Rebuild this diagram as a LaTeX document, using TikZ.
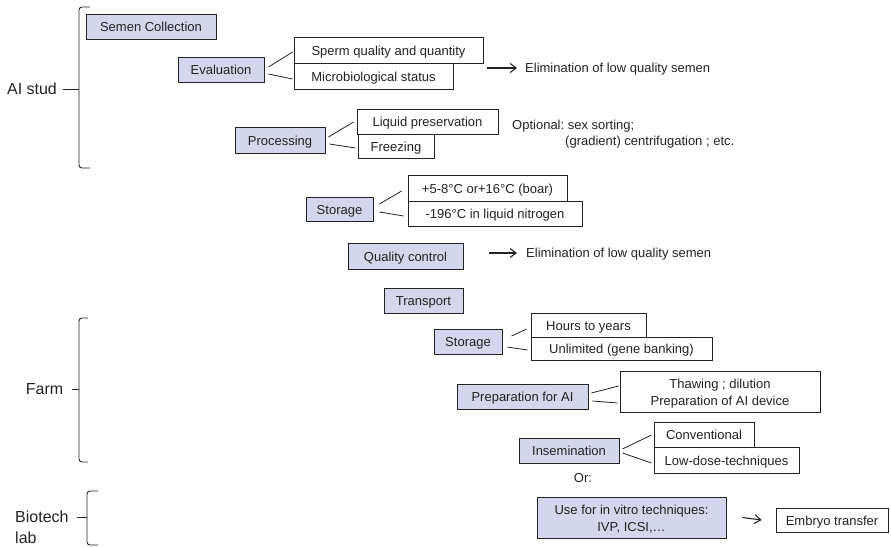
\documentclass[tikz,border=0pt]{standalone}
\usepackage{fontspec}
\setmainfont{Liberation Sans}
\usetikzlibrary{arrows.meta}
\definecolor{stepfill}{RGB}{211,214,236}
\definecolor{ink}{RGB}{35,35,35}
\frenchspacing

\begin{document}
\begin{tikzpicture}[x=1pt,y=-1pt]
\tikzstyle{box}=[draw=ink,line width=0.9pt,inner sep=0pt,font=\fontsize{13}{17}\selectfont,text=ink];
\tikzstyle{stepbox}=[box,fill=stepfill,text height=12pt,text depth=2pt];
\tikzstyle{detail}=[box,fill=white,text height=12pt,text depth=2pt];
\tikzstyle{note}=[inner sep=0pt,font=\fontsize{13}{17}\selectfont,text=ink];
\tikzstyle{place}=[inner sep=0pt,align=left,font=\fontsize{16}{21}\selectfont,text=ink];
\tikzstyle{link}=[draw=ink,line width=0.8pt];
\tikzstyle{alloc}=[draw=ink,line width=1.1pt,-{Straight Barb[length=6pt,width=9pt]}];
\tikzstyle{brace}=[draw=ink,line width=0.9pt,rounded corners=3pt];
\useasboundingbox (0,0) rectangle (891,547);

% places
\node [place] (aistud) at (32,89) {AI stud};
\node [place] (farm) at (44.5,389) {Farm};
\node [place,anchor=west] (biotech) at (15,527) {Biotech\\lab};
\draw [brace] (90,7) -| (79,168) -- (90,168);
\draw [brace] (63,89) -- (79,89);
\draw [brace] (88,318) -| (79,462) -- (88,462);
\draw [brace] (72,389) -- (79,389);
\draw [brace] (98,491) -| (87,545) -- (98,545);
\draw [brace] (77,517) -- (87,517);

% AI stud
\node [stepbox,minimum width=130,minimum height=25] (collect) at (151,26.5) {Semen Collection};
\node [stepbox,minimum width=86,minimum height=25] (eval) at (221,69.5) {Evaluation};
\node [detail,minimum width=189,minimum height=26] (sperm) at (388.5,50) {Sperm quality and quantity};
\node [detail,minimum width=159,minimum height=26] (micro) at (373.5,76) {Microbiological status};
\node [note,anchor=base west] (elim1) at (525,72.7) {Elimination of low quality semen};
\draw [link] ([shift={(4,-2.5)}]eval.east) -- ([shift={(-1,2)}]sperm.west);
\draw [link] ([shift={(4,4.5)}]eval.east) -- ([shift={(-1,3)}]micro.west);
\draw [alloc] ([shift={(-38,-4.7)}]elim1.base west) -- ([shift={(-8,-4.7)}]elim1.base west);

\node [stepbox,minimum width=90,minimum height=26] (proc) at (280,140) {Processing};
\node [detail,minimum width=141,minimum height=25] (liquid) at (427.5,121.5) {Liquid preservation};
\node [detail,minimum width=76,minimum height=24] (freeze) at (396,146) {Freezing};
\node [note,anchor=base west] (opt1) at (512,129.7) {Optional: sex sorting;};
\node [note,anchor=base west] (opt2) at (565,145.7) {(gradient) centrifugation ; etc.};
\draw [link] ([shift={(3,-3)}]proc.east) -- ([shift={(-3,0.5)}]liquid.west);
\draw [link] ([shift={(4,4)}]proc.east) -- ([shift={(-2,2)}]freeze.west);

\node [stepbox,minimum width=67,minimum height=24] (store) at (339.5,209) {Storage};
\node [detail,minimum width=159,minimum height=26] (warm) at (487.5,188) {+5-8°C or+16°C (boar)};
\node [detail,minimum width=174,minimum height=25] (cold) at (495,213.5) {-196°C in liquid nitrogen};
\draw [link] ([shift={(6,-5)}]store.east) -- ([shift={(-6,3)}]warm.west);
\draw [link] ([shift={(6,3)}]store.east) -- ([shift={(-4,2.5)}]cold.west);

\node [stepbox,minimum width=115,minimum height=26] (qc) at (405.5,256) {Quality control};
\node [note,anchor=base west] (elim2) at (526,257.7) {Elimination of low quality semen};
\draw [alloc] ([shift={(-37,-4.7)}]elim2.base west) -- ([shift={(-9,-4.7)}]elim2.base west);

\node [stepbox,minimum width=79,minimum height=25] (trans) at (423.5,300.5) {Transport};

% Farm
\node [stepbox,minimum width=68,minimum height=25] (farmstore) at (468,341.5) {Storage};
\node [detail,minimum width=115,minimum height=24] (hours) at (588.5,325) {Hours to years};
\node [detail,minimum width=181,minimum height=23] (unlim) at (621.5,348.5) {Unlimited (gene banking)};
\draw [link] ([shift={(9,-5.5)}]farmstore.east) -- ([shift={(-4,4)}]hours.west);
\draw [link] ([shift={(5,5.5)}]farmstore.east) -- ([shift={(-3,1.5)}]unlim.west);

\node [stepbox,minimum width=131,minimum height=25] (prep) at (522.5,396.5) {Preparation for AI};
\node [box,fill=white,align=center,minimum width=200,minimum height=41] (thaw) at (720,391.5) {\rule{0pt}{13.5pt}Thawing ; dilution\\Preparation of AI device};
\draw [link] ([shift={(3,-3.5)}]prep.east) -- ([shift={(-1,-5.5)}]thaw.west);
\draw [link] ([shift={(4,4.5)}]prep.east) -- ([shift={(-2,11.5)}]thaw.west);

\node [stepbox,minimum width=100,minimum height=25] (insem) at (569,450.5) {Insemination};
\node [detail,minimum width=100,minimum height=25] (conv) at (704,434.5) {Conventional};
\node [detail,minimum width=145,minimum height=26] (lowdose) at (726.5,460) {Low-dose-techniques};
\draw [link] ([shift={(3,-1.5)}]insem.east) -- ([shift={(-2,0.5)}]conv.west);
\draw [link] ([shift={(3,2.5)}]insem.east) -- ([shift={(-2,3)}]lowdose.west);
\node [note,anchor=base] (or) at (583,482.7) {Or:};

% Biotech lab
\node [box,fill=stepfill,align=center,minimum width=189,minimum height=41] (invitro) at (631.5,517.5) {\rule{0pt}{13.5pt}Use for in vitro techniques:\\IVP, ICSI,\dots};
\node [detail,minimum width=112,minimum height=24] (embryo) at (832,520) {Embryo transfer};
\draw [alloc] ([xshift=16pt]invitro.east) -- ([xshift=-14pt]embryo.west);
\end{tikzpicture}
\end{document}
